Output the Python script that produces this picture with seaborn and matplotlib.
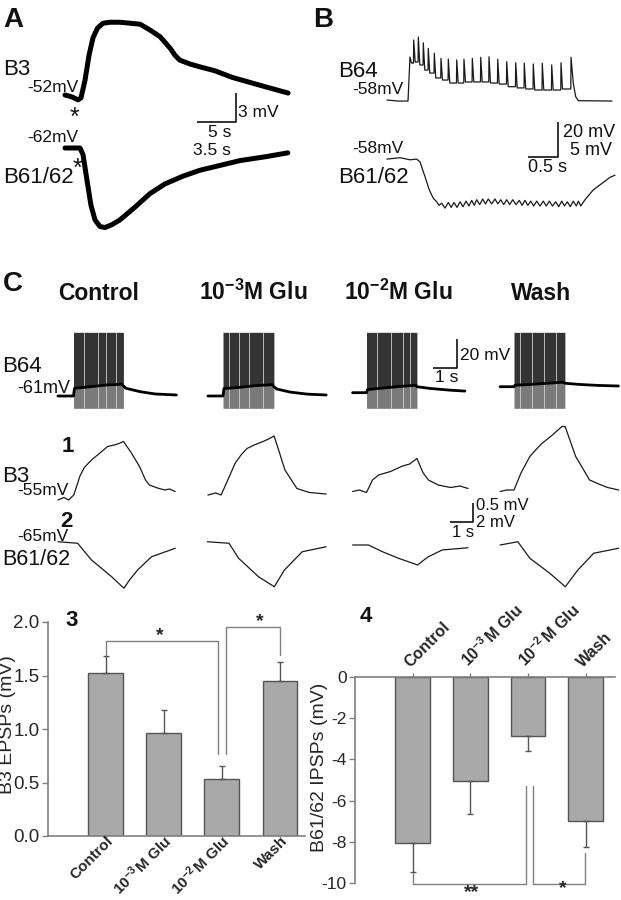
import matplotlib
matplotlib.use("Agg")
import matplotlib.pyplot as plt
import matplotlib.transforms as mtransforms
import seaborn as sns
import pandas as pd

# ---------------- data ----------------
# A: slow responses (time s, membrane potential mV)
a_b3_t = [0.0, 0.9, 1.67, 2.05, 2.56, 3.08, 3.59, 4.17, 4.87, 5.77, 7.05, 8.33, 9.62,
          10.9, 12.2, 13.5, 14.1, 14.7, 16.0, 17.3, 19.2, 21.5, 23.7, 25.9, 28.6]
a_b3_v = [-52.0, -52.2, -52.5, -52.3, -50.5, -47.9, -46.1, -45.1, -44.6, -44.5, -44.5, -44.6, -44.7,
          -45.3, -46.0, -47.2, -47.9, -48.4, -48.8, -49.1, -49.5, -50.2, -50.7, -51.2, -51.8]
a_b61_t = [0.0, 1.35, 1.62, 1.97, 2.33, 2.69, 3.14, 3.59, 4.22, 4.94, 6.28, 7.63, 8.98,
           10.6, 12.1, 13.9, 15.7, 18.0, 20.0]
a_b61_v = [-62.0, -62.0, -62.7, -65.3, -67.9, -69.4, -70.1, -70.2, -69.9, -69.4, -68.1, -66.7, -65.7,
           -64.9, -64.3, -63.8, -63.3, -62.9, -62.5]

# B: B64 spike train and B61/62 IPSPs
b_base_t = [0.0, 0.18, 0.35]
b_base_v = [-58.0, -58.6, -58.6]
b_spk_t = [0.383, 0.445, 0.522, 0.605, 0.688, 0.788, 0.900, 1.022, 1.162, 1.283, 1.422,
           1.562, 1.700, 1.845, 1.995, 2.145, 2.288, 2.438, 2.588, 2.745, 2.900, 3.067]
b_spk_peak = [-33.4, -23.7, -22.0, -25.3, -28.5, -31.3, -34.2, -34.7, -35.1, -34.7, -34.2,
              -33.6, -33.3, -34.7, -36.1, -36.7, -37.0, -37.4, -37.0, -38.0, -36.7, -33.6]
b_spk_trough = [-36.9, -36.3, -38.0, -40.9, -42.6, -45.4, -46.6, -48.3, -48.3, -47.7, -47.7,
                -47.7, -48.3, -48.9, -50.4, -51.1, -51.7, -52.3, -52.3, -52.3, -51.7]
b_tail_t = [3.105, 3.145, 3.19, 3.75]
b_tail_v = [-48.5, -56.1, -58.4, -58.6]

b_ipsp_on_t = [0.0, 0.217, 0.383, 0.495, 0.55, 0.633, 0.705, 0.772, 0.828, 0.867]
b_ipsp_on_v = [-58.3, -58.1, -58.4, -58.3, -58.7, -60.8, -62.7, -63.9, -64.4, -64.9]
b_ipsp_zz_t = [0.912, 0.967, 1.022, 1.07, 1.117, 1.167, 1.217, 1.267, 1.317, 1.365, 1.412, 1.455,
               1.495, 1.545, 1.595, 1.642, 1.688, 1.745, 1.800, 1.848, 1.895, 1.945, 1.995, 2.045,
               2.095, 2.15, 2.205, 2.252, 2.300, 2.348, 2.395, 2.445, 2.495, 2.55, 2.605, 2.655,
               2.705, 2.758, 2.812, 2.862, 2.912, 2.958, 3.005, 3.055, 3.105, 3.155, 3.19, 3.23]
b_ipsp_zz_v = [-64.6, -65.3, -64.5, -65.2, -64.5, -65.2, -64.4, -65.1, -64.3, -65.0, -64.2, -64.9,
               -64.1, -64.8, -64.0, -64.7, -64.0, -64.7, -64.0, -64.7, -64.1, -64.8, -64.1, -64.8,
               -64.1, -64.8, -64.2, -64.9, -64.2, -64.9, -64.3, -65.0, -64.3, -65.0, -64.3, -65.0,
               -64.3, -65.0, -64.4, -65.1, -64.3, -65.0, -64.4, -65.1, -64.3, -65.0, -64.3, -65.0]
b_ipsp_off_t = [3.30, 3.438, 3.578, 3.717, 3.8]
b_ipsp_off_v = [-64.1, -62.7, -61.8, -60.9, -60.6]

# C: four conditions, time from B64 burst onset (s)
c_titles = ["Control", r"10$^{-3}$M Glu", r"10$^{-2}$M Glu", "Wash"]
c_burst_dur = [2.08, 2.12, 2.10, 2.12]
c_burst_top = -17.1
c_burst_bot = -69.5
c_gap_t = [[0.42, 1.0, 1.34, 1.75], [0.25, 0.67, 1.08, 1.67],
           [0.42, 1.0, 1.5, 1.83], [0.25, 0.75, 1.25, 1.75]]
c_b64_t = [[-0.65, 0.0, 0.04, 0.69, 1.38, 2.0, 2.08, 2.19, 2.77, 3.4, 4.29],
           [-0.63, 0.0, 0.04, 0.7, 1.4, 2.05, 2.12, 2.25, 2.8, 3.5, 4.3],
           [-0.58, 0.0, 0.04, 0.7, 1.4, 2.05, 2.1, 2.65, 3.5, 4.1],
           [-0.58, 0.0, 0.04, 0.7, 1.4, 2.05, 2.12, 2.7, 3.5, 4.35]]
c_b64_v = [[-61.0, -61.0, -55.7, -54.6, -53.4, -52.9, -54.1, -55.7, -58.0, -59.6, -60.3],
           [-61.0, -61.0, -55.9, -55.0, -53.8, -53.2, -54.6, -56.2, -58.3, -59.7, -60.3],
           [-58.7, -58.7, -56.6, -55.5, -54.4, -53.6, -54.6, -55.8, -57.0, -57.6],
           [-54.6, -54.6, -53.6, -53.0, -52.2, -51.5, -52.2, -53.0, -53.7, -54.1]]
c_b3_t = [[-0.65, -0.4, -0.2, 0.01, 0.15, 0.26, 0.45, 0.75, 1.0, 1.2, 1.42, 1.7, 1.9, 2.08,
           2.4, 2.75, 3.0, 3.16, 3.5, 3.8, 4.0, 4.24],
          [-0.63, -0.3, -0.08, 0.2, 0.5, 0.75, 1.0, 1.3, 1.67, 1.9, 2.13, 2.35, 2.58, 3.08, 3.6, 4.3],
          [-0.58, -0.3, 0.0, 0.25, 0.5, 1.0, 1.5, 1.8, 2.1, 2.35, 2.58, 2.99, 3.5, 3.9, 4.23],
          [-0.58, -0.3, 0.0, 0.3, 0.66, 0.9, 1.16, 1.6, 2.0, 2.13, 2.57, 3.15, 3.48, 3.9, 4.36]]
c_b3_v = [[-55.1, -55.05, -55.1, -55.0, -54.8, -54.63, -54.45, -54.3, -54.2, -54.12, -54.03, -54.0,
           -53.97, -53.93, -54.15, -54.43, -54.7, -54.8, -54.86, -54.9, -54.88, -54.93],
          [-55.0, -54.96, -55.0, -54.7, -54.37, -54.2, -54.07, -54.0, -53.93, -53.88, -53.82, -54.15,
           -54.5, -54.87, -54.95, -54.98],
          [-54.93, -54.9, -54.95, -54.7, -54.6, -54.53, -54.42, -54.38, -54.27, -54.55, -54.7, -54.8,
           -54.85, -54.82, -54.87],
          [-54.93, -54.9, -54.9, -54.55, -54.23, -54.1, -53.97, -53.8, -53.63, -53.63, -54.23, -54.7,
           -54.77, -54.85, -54.9]]
c_b61_t = [[-0.65, 0.17, 0.75, 1.59, 2.1, 2.35, 2.67, 3.25, 4.24],
           [-0.65, 0.25, 0.65, 1.48, 2.14, 2.35, 2.56, 3.3, 4.3],
           [-0.58, 0.08, 0.67, 1.33, 2.13, 2.35, 2.58, 3.15, 4.23],
           [-0.58, 0.16, 0.66, 1.49, 2.14, 2.4, 2.66, 3.32, 4.36]]
c_b61_v = [[-64.98, -65.1, -66.44, -67.78, -68.7, -68.0, -67.24, -66.18, -65.5],
           [-64.98, -65.1, -66.3, -67.78, -68.58, -67.9, -67.24, -65.78, -65.38],
           [-65.24, -65.24, -65.78, -66.3, -66.84, -66.5, -66.18, -65.64, -65.46],
           [-65.24, -64.98, -66.3, -67.5, -68.58, -67.9, -67.24, -65.9, -65.5]]

# C3 / C4: summary bars
conds = ["Control", "10-3 M Glu", "10-2 M Glu", "Wash"]
cond_ticks = ["Control", r"10$^{-3}\,$M Glu", r"10$^{-2}\,$M Glu", "Wash"]
b3_mean = [1.52, 0.96, 0.53, 1.45]
b3_sem = [0.16, 0.22, 0.12, 0.18]
ipsp_mean = [-8.05, -5.03, -2.87, -6.97]
ipsp_sem = [1.40, 1.62, 0.71, 1.30]

# ---------------- style ----------------
sns.set_theme(style="ticks")
plt.rcParams["font.family"] = ["Liberation Sans", "DejaVu Sans"]
plt.rcParams["axes.unicode_minus"] = False
plt.rcParams["mathtext.fontset"] = "custom"
plt.rcParams["mathtext.rm"] = "Liberation Sans:bold"
plt.rcParams["mathtext.it"] = "Liberation Sans:bold"
plt.rcParams["mathtext.bf"] = "Liberation Sans:bold"
plt.rcParams["mathtext.default"] = "rm"

W, H = 621, 900
fig = plt.figure(figsize=(W / 100, H / 100), dpi=100)

ov = fig.add_axes([0, 0, 1, 1])
ov.set_xlim(0, W)
ov.set_ylim(H, 0)
ov.set_axis_off()


def px_axes(x0, y0, x1, y1):
    return fig.add_axes([x0 / W, 1 - y1 / H, (x1 - x0) / W, (y1 - y0) / H])


def trace_axes(box, anchor_px, anchor_val, sx, sy):
    # axes whose data scale matches the reference scale bars
    x0, y0, x1, y1 = box
    ax = px_axes(x0, y0, x1, y1)
    ax.set_xlim(anchor_val[0] + (x0 - anchor_px[0]) / sx, anchor_val[0] + (x1 - anchor_px[0]) / sx)
    ax.set_ylim(anchor_val[1] - (y1 - anchor_px[1]) / sy, anchor_val[1] - (y0 - anchor_px[1]) / sy)
    ax.set_axis_off()
    ax.patch.set_visible(False)
    return ax


def trace(ax, t, v, lw, color="#1a1a1a"):
    sns.lineplot(x=t, y=v, ax=ax, color=color, linewidth=lw, sort=False,
                 estimator=None, legend=False)
    ax.lines[-1].set_clip_on(False)


def label(x, y, s, size, weight="normal", ha="left"):
    ov.text(x, y, s, fontsize=size, fontweight=weight, ha=ha, va="baseline", color="#111111")


def bar(xs, ys, lw=1.2):
    ov.plot(xs, ys, color="#111111", lw=lw, solid_capstyle="butt")


# ---------------- panel A ----------------
axA1 = trace_axes((55, 10, 300, 125), (65, 95), (0, -52), 7.8, 9.7)
trace(axA1, a_b3_t, a_b3_v, 3.6, "black")
axA2 = trace_axes((55, 135, 300, 240), (65, 148), (0, -62), 11.14, 9.7)
trace(axA2, a_b61_t, a_b61_v, 3.6, "black")

label(3, 27, "A", 20, "bold")
label(3, 75, "B3", 16)
label(27, 92, "-52mV", 12.5)
label(74, 125, "*", 18, ha="center")
label(27, 142, "-62mV", 12.5)
label(77, 176, "*", 18, ha="center")
label(3, 183, "B61/62", 16)
bar([197, 236, 236], [122, 122, 93])
label(238, 117, "3 mV", 12.5)
label(208, 137, "5 s", 12.5)
label(193, 155, "3.5 s", 12.5)

# ---------------- panel B ----------------
b64_t = list(b_base_t)
b64_v = list(b_base_v)
for i, ts in enumerate(b_spk_t):
    if i > 0:
        b64_t.append(ts - 0.004)
        b64_v.append(b_spk_trough[i - 1])
    b64_t.append(ts)
    b64_v.append(b_spk_peak[i])
    if i < len(b_spk_trough):
        b64_t.append(ts + 0.025)
        b64_v.append(b_spk_trough[i])
b64_t += b_tail_t
b64_v += b_tail_v

axB1 = trace_axes((380, 30, 620, 110), (387, 100), (0, -58), 60, 1.75)
trace(axB1, b64_t, b64_v, 0.9)
axB2 = trace_axes((380, 140, 620, 215), (387, 157), (0, -58), 60, 7)
trace(axB2, b_ipsp_on_t + b_ipsp_zz_t + b_ipsp_off_t,
      b_ipsp_on_v + b_ipsp_zz_v + b_ipsp_off_v, 0.9)

label(313, 27, "B", 20, "bold")
label(338, 77, "B64", 16)
label(352, 94, "-58mV", 12.5)
label(352, 153, "-58mV", 12.5)
label(338, 183, "B61/62", 16)
bar([528, 558, 558], [157, 157, 122])
label(563, 137, "20 mV", 13)
label(612, 155, "5 mV", 13, ha="right")
label(528, 172, "0.5 s", 13)

# ---------------- panel C ----------------
c_onset_px = [73.5, 223, 366.5, 514]
c_title_px = [99, 253, 398, 541]
for k in range(4):
    x0 = c_onset_px[k]
    ax1 = trace_axes((x0 - 20, 325, x0 + 110, 415), (x0, 396), (0, -61.0), 24, 1.45)
    t, v = c_b64_t[k], c_b64_v[k]
    inside = [j for j in range(len(t)) if 0 <= t[j] <= c_burst_dur[k]]
    ti = [t[j] for j in inside]
    vi = [v[j] for j in inside]
    ax1.fill_between(ti, vi, c_burst_top, color="#343434", lw=0)
    ax1.fill_between(ti, c_burst_bot, vi, color="#7a7a7a", lw=0)
    for g in c_gap_t[k]:
        ax1.plot([g, g], [c_burst_bot, c_burst_top], color="#d0d0d0", lw=0.6)
    trace(ax1, t, v, 2.0, "black")

    ax2 = trace_axes((x0 - 20, 420, x0 + 110, 510), (x0, 495), (0, -55.0), 24, 50)
    trace(ax2, c_b3_t[k], c_b3_v[k], 0.9)
    ax3c = trace_axes((x0 - 20, 530, x0 + 110, 595), (x0, 542), (0, -65.0), 24, 12.5)
    trace(ax3c, c_b61_t[k], c_b61_v[k], 0.9)

    label(c_title_px[k], 300, c_titles[k], 16.5, "bold", ha="center")

label(3, 291, "C", 20, "bold")
label(2, 372, "B64", 16)
label(17, 393, "-61mV", 13)
bar([433, 457, 457], [368, 368, 339])
label(460, 360, "20 mV", 12.5)
label(435, 382, "1 s", 12.5)
label(62, 452, "1", 16, "bold")
label(2, 482, "B3", 16)
label(17, 495, "-55mV", 12.5)
label(60, 527, "2", 16, "bold")
label(17, 541, "-65mV", 12.5)
label(2, 565, "B61/62", 15.5)
bar([450, 473, 473], [522, 522, 503])
label(476, 510, "0.5 mV", 12)
label(476, 527, "2 mV", 12)
label(452, 537, "1 s", 12)

# ---------------- panel C3: B3 EPSPs ----------------
spine_c = "#808080"
ax3 = px_axes(48, 622, 305, 836)
df3 = pd.DataFrame({"cond": conds, "mean": b3_mean})
sns.barplot(data=df3, x="cond", y="mean", order=conds, color="#a9a9a9", saturation=1,
            width=0.6, edgecolor="#555555", linewidth=1, errorbar=None, ax=ax3)
ax3.errorbar(range(4), b3_mean, yerr=[[0] * 4, b3_sem], fmt="none", ecolor="#555555",
             elinewidth=1, capsize=2.5, capthick=1)
ax3.set_xlim(-0.99, 3.43)
ax3.set_ylim(0, 2.0)
ax3.set_yticks([0, 0.5, 1.0, 1.5, 2.0])
ax3.set_yticklabels(["0.0", "0.5", "1.0", "1.5", "2.0"])
ax3.set_xticks(range(4))
ax3.set_xticklabels([])
# slanted category labels ending just right of each tick
xlab_tr = mtransforms.blended_transform_factory(ax3.transData, ax3.transAxes)
for i, s in enumerate(cond_ticks):
    ax3.text(i + 0.09, -0.012, s, transform=xlab_tr, rotation=45, ha="right", va="center",
             rotation_mode="anchor", fontweight="bold", fontsize=11)
ax3.set_xlabel("")
ax3.set_ylabel("B3 EPSPs (mV)", fontsize=14)
ax3.yaxis.set_label_coords(-0.125, 0.52)
ax3.tick_params(axis="y", labelsize=13.5, length=4, width=1, color=spine_c, pad=2)
ax3.tick_params(axis="x", length=3, width=1, color=spine_c)
for s in ["top", "right"]:
    ax3.spines[s].set_visible(False)
for s in ["left", "bottom"]:
    ax3.spines[s].set_color(spine_c)
    ax3.spines[s].set_linewidth(1.2)
ax3.patch.set_visible(False)
br = dict(color=spine_c, lw=1, clip_on=False)
ax3.plot([0, 0, 1.93, 1.93], [1.69, 1.82, 1.82, 0.77], **br)
ax3.plot([2.07, 2.07, 3, 3], [0.77, 1.95, 1.95, 1.69], **br)
ax3.text(0.94, 1.79, "*", ha="center", va="bottom", fontsize=14, fontweight="bold")
ax3.text(2.65, 1.92, "*", ha="center", va="bottom", fontsize=14, fontweight="bold")
label(65, 626, "3", 16, "bold")

# ---------------- panel C4: B61/62 IPSPs ----------------
ax4 = px_axes(355, 677, 615, 883)
df4 = pd.DataFrame({"cond": conds, "mean": ipsp_mean})
sns.barplot(data=df4, x="cond", y="mean", order=conds, color="#a9a9a9", saturation=1,
            width=0.6, edgecolor="#555555", linewidth=1, errorbar=None, ax=ax4)
ax4.errorbar(range(4), ipsp_mean, yerr=[ipsp_sem, [0] * 4], fmt="none", ecolor="#555555",
             elinewidth=1, capsize=2.5, capthick=1)
ax4.set_xlim(-1.0, 3.51)
ax4.set_ylim(-10, 0)
ax4.set_yticks([0, -2, -4, -6, -8, -10])
ax4.xaxis.tick_top()
ax4.set_xticks(range(4))
ax4.set_xticklabels(cond_ticks, rotation=45, ha="left", rotation_mode="anchor",
                    fontweight="bold", fontsize=11.5)
ax4.set_xlabel("")
ax4.set_ylabel("B61/62 IPSPs (mV)", fontsize=14)
ax4.yaxis.set_label_coords(-0.105, 0.56)
ax4.tick_params(axis="y", labelsize=12.5, length=4, width=1, color=spine_c, pad=2)
ax4.tick_params(axis="x", length=3, width=1, color=spine_c, top=True, bottom=False, pad=2)
for s in ["bottom", "right"]:
    ax4.spines[s].set_visible(False)
for s in ["left", "top"]:
    ax4.spines[s].set_color(spine_c)
    ax4.spines[s].set_linewidth(1.2)
ax4.patch.set_visible(False)
ax4.plot([0, 0, 1.97, 1.97], [-9.5, -10.03, -10.03, -5.3], **br)
ax4.plot([2.08, 2.08, 2.99, 2.99], [-5.3, -10.03, -10.03, -8.55], **br)
ax4.text(1.03, -10.7, "**", ha="center", va="baseline", fontsize=14, fontweight="bold")
ax4.text(2.61, -10.5, "*", ha="center", va="baseline", fontsize=14, fontweight="bold")
label(360, 622, "4", 16, "bold")

fig.savefig("out.png", dpi=100)
